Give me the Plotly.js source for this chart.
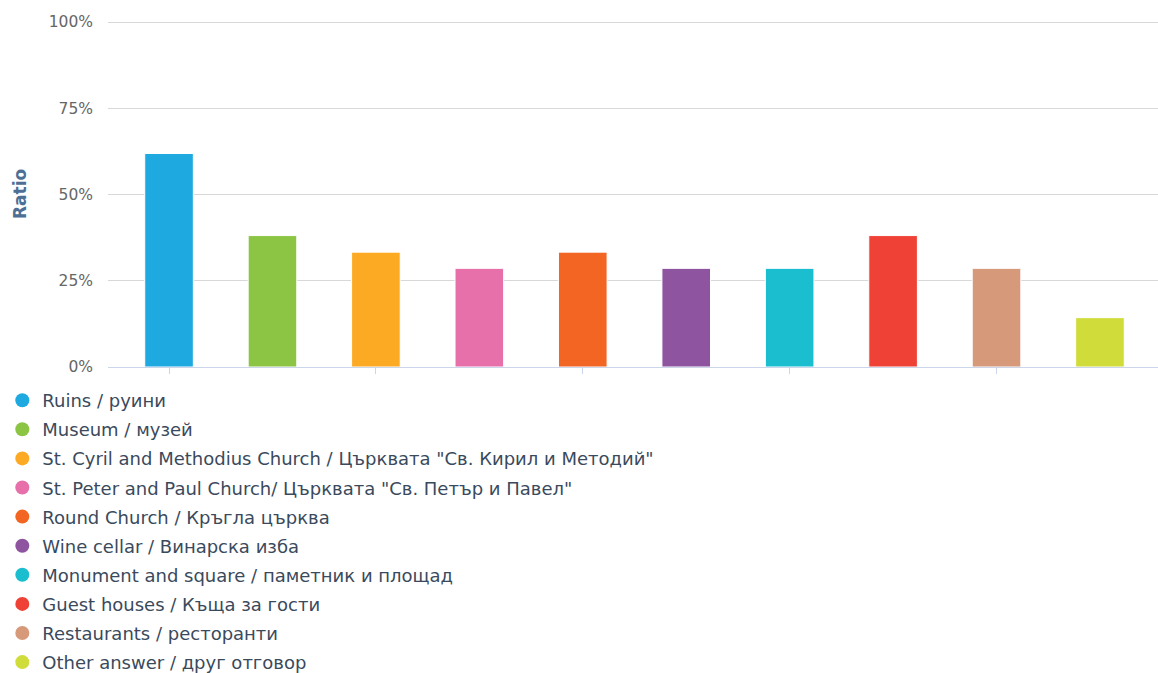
<!DOCTYPE html>
<html>
<head>
<meta charset="utf-8">
<script src="https://cdn.plot.ly/plotly-3.0.1.min.js"></script>
<style>
html,body{margin:0;padding:0;background:#fff;}
#chart{width:1158px;height:673px;}
</style>
</head>
<body>
<div id="chart"></div>
<script>
const categories = [
  'Ruins / руини',
  'Museum / музей',
  'St. Cyril and Methodius Church / Църквата "Св. Кирил и Методий"',
  'St. Peter and Paul Church/ Църквата "Св. Петър и Павел"',
  'Round Church / Кръгла църква',
  'Wine cellar / Винарска изба',
  'Monument and square / паметник и площад',
  'Guest houses / Къща за гости',
  'Restaurants / ресторанти',
  'Other answer / друг отговор'
];
const ratios = [0.619, 0.381, 0.333, 0.286, 0.333, 0.286, 0.286, 0.381, 0.286, 0.143];
const colors = ['#1fa9e1','#8bc543','#fca923','#e76faa','#f26522','#8e54a0','#1bbecf','#ef4136','#d6997a','#d0dc3a'];
const yTicks = [0, 0.25, 0.5, 0.75, 1];
const xTicks = [0, 2, 4, 6, 8];

const traces = [];
categories.forEach((c, i) => {
  traces.push({
    type: 'bar',
    x: [i],
    y: [ratios[i]],
    width: 0.47,
    marker: {color: colors[i], line: {color: '#ffffff', width: 1}},
    showlegend: false,
    legendgroup: 'g' + i,
    hoverinfo: 'skip'
  });
  traces.push({
    type: 'scatter',
    mode: 'markers',
    x: [null],
    y: [null],
    name: c,
    legendgroup: 'g' + i,
    marker: {color: colors[i], size: 14, symbol: 'circle'},
    showlegend: true
  });
});

const layout = {
  width: 1158,
  height: 673,
  margin: {l: 108, r: 0, t: 21, b: 306, autoexpand: false},
  paper_bgcolor: '#ffffff',
  plot_bgcolor: '#ffffff',
  font: {family: '"DejaVu Sans", sans-serif', color: '#333333'},
  barmode: 'overlay',
  xaxis: {
    range: [-0.59, 9.561],
    tickvals: xTicks,
    showticklabels: false,
    ticks: 'outside',
    ticklen: 6,
    tickcolor: '#ccd6eb',
    showgrid: false,
    zeroline: false,
    showline: true,
    linecolor: '#ccd6eb',
    linewidth: 1,
    fixedrange: true
  },
  yaxis: {
    range: [0, 1.003],
    tickvals: yTicks,
    tickformat: '.0%',
    ticks: '',
    ticklabelstandoff: 14,
    tickfont: {size: 15.5, color: '#666666'},
    showgrid: true,
    gridcolor: '#d8d8d8',
    gridwidth: 1,
    zeroline: false,
    showline: false,
    automargin: false,
    fixedrange: true
  },
  annotations: [{
    text: '<b>Ratio</b>',
    xref: 'paper', yref: 'paper',
    x: -0.0838, y: 0.5,
    xanchor: 'center', yanchor: 'middle',
    textangle: -90,
    showarrow: false,
    font: {size: 17, color: '#4d6f96'}
  }],
  legend: {
    xref: 'container',
    yref: 'container',
    x: 0.002,
    xanchor: 'left',
    y: 1 - 382/673,
    yanchor: 'top',
    orientation: 'v',
    traceorder: 'grouped',
    tracegroupgap: 2.7,
    maxheight: 1,
    font: {size: 18, color: '#3a4a5c'},
    bgcolor: 'rgba(0,0,0,0)'
  },
  showlegend: true
};

Plotly.newPlot('chart', traces, layout, {displayModeBar: false, staticPlot: true});
</script>
</body>
</html>
